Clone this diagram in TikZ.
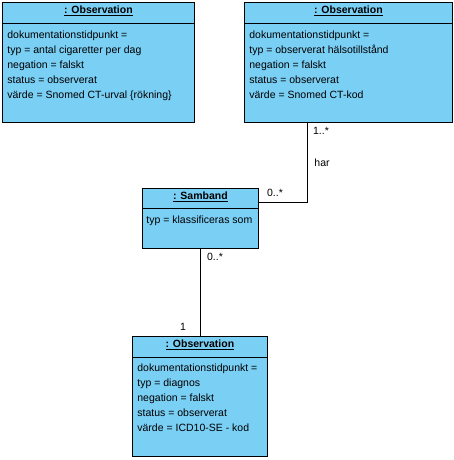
\documentclass[tikz,border=0pt]{standalone}
\usepackage{fontspec}
\setmainfont{Liberation Sans}
\definecolor{objblue}{RGB}{122,207,245}
\tikzset{
  obj/.style={draw,fill=objblue,inner sep=0pt,anchor=north west},
  objname/.style={font=\fontsize{10.5}{15}\bfseries,inner sep=0pt},
  attrs/.style={align=left,anchor=north west,inner sep=0pt},
  mult/.style={inner sep=0pt}
}
\begin{document}
\begin{tikzpicture}[x=1pt,y=-1pt,line width=0.8pt,font=\fontsize{10.5}{15}\selectfont]
    \useasboundingbox (0,0) rectangle (454,460);
    % objects
    \foreach \n/\x/\y/\w/\h/\s/\t in {obsA/2/2/192/120/21/Observation,obsB/244/2/208/120/21/Observation,
                                      samband/142/188/116/60/20/Samband,obsC/132/336/135/120/21/Observation}
    {
        \node[obj,minimum width=\w pt,minimum height=\h pt] (\n) at (\x,\y) {};
        \draw ([yshift=-\s pt]\n.north west) -- ([yshift=-\s pt]\n.north east);
        \node[objname] (\n name) at ([yshift=-9pt]\n.north) {\underline{: \t}};
    }
    \node[attrs] (obsA attr) at ([shift={(5pt,-28pt)}]obsA.north west)
        {dokumentationstidpunkt =\\typ = antal cigaretter per dag\\negation = falskt\\status = observerat\\v\"arde = Snomed CT-urval \{r\"okning\}};
    \node[attrs] (obsB attr) at ([shift={(5pt,-28pt)}]obsB.north west)
        {dokumentationstidpunkt =\\typ = observerat h\"alsotillst\aa nd\\negation = falskt\\status = observerat\\v\"arde = Snomed CT-kod};
    \node[attrs] (samband attr) at ([shift={(4pt,-27pt)}]samband.north west) {typ = klassificeras som};
    \node[attrs] (obsC attr) at ([shift={(5pt,-27pt)}]obsC.north west)
        {dokumentationstidpunkt =\\typ = diagnos\\negation = falskt\\status = observerat\\v\"arde = ICD10-SE - kod};
    % links
    \draw ([xshift=63pt]obsB.south west) |- ([yshift=-14pt]samband.north east);
    \draw (samband.south) -- (samband.south |- obsC.north);
    \node[mult] (multB) at (321,131) {1..*};
    \node[mult] (har) at (322,163) {har};
    \node[mult] (multS1) at (275,193) {0..*};
    \node[mult] (multS2) at (215,257) {0..*};
    \node[mult] (multC) at (183,327) {1};
\end{tikzpicture}
\end{document}
